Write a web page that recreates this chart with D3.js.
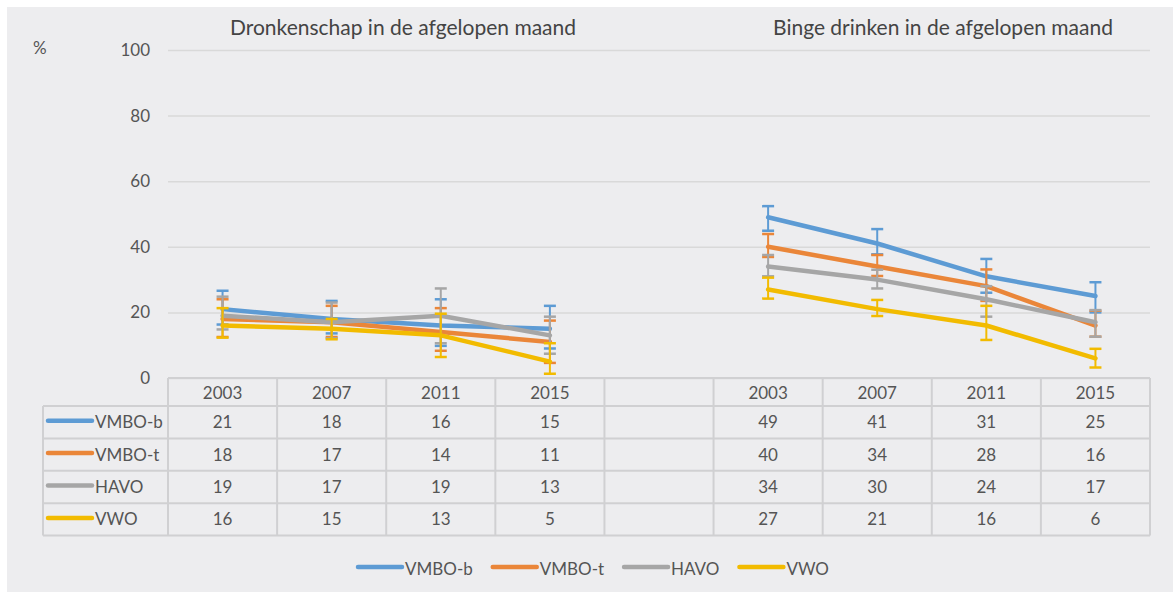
<!DOCTYPE html>
<html>
<head>
<meta charset="utf-8">
<script src="https://cdn.jsdelivr.net/npm/d3@7"></script>
<style>
  body { margin: 0; background: #fff; }
  svg { display: block; font-family: Lato, "Open Sans", sans-serif; }
</style>
</head>
<body>
<div id="chart"></div>
<script>
// data
var panels = ["Dronkenschap in de afgelopen maand", "Binge drinken in de afgelopen maand"];
var years = ["2003", "2007", "2011", "2015"];
var series = ["VMBO-b", "VMBO-t", "HAVO", "VWO"];
var colors = ["#5d9bd4", "#ea8639", "#a6a6a6", "#f2bb00"];
var yTicks = [0, 20, 40, 60, 80, 100];

// dronkenschap
var dronkValues = [[21, 18, 16, 15], [18, 17, 14, 11], [19, 17, 19, 13], [16, 15, 13, 5]];
var dronkLow = [[16.3, 13.6, 9.8, 9], [12.5, 12.5, 8.3, 4.6], [14.8, 12.1, 10.6, 7.4], [12.3, 11.8, 6.4, 1.3]];
var dronkHigh = [[26.6, 23.5, 24, 22], [24, 22, 21.3, 17.5], [24.8, 23, 27.3, 18.7], [21.3, 18, 19.6, 10.6]];

// binge drinken
var bingeValues = [[49, 41, 31, 25], [40, 34, 28, 16], [34, 30, 24, 17], [27, 21, 16, 6]];
var bingeLow = [[44.9, 37.7, 26, 20], [36.9, 31.1, 23.5, 12.6], [31, 27.3, 18.7, 12.6], [24.2, 18.9, 11.6, 3.2]];
var bingeHigh = [[52.4, 45.4, 36.3, 29.2], [43.9, 37.5, 33.1, 20.5], [37.5, 33, 28, 20.7], [30.6, 23.8, 22, 8.9]];

var width = 1173, height = 592;
var textColor = "#555555";

var svg = d3.select("#chart").append("svg")
    .attr("width", width)
    .attr("height", height);

svg.append("rect")
    .attr("x", 7).attr("y", 7)
    .attr("width", width - 7).attr("height", height - 7)
    .attr("fill", "#ededef");

// category keys: 4 years, a gap, 4 years
var catKeys = years.map(function(y) { return "a" + y; })
    .concat(["gap"])
    .concat(years.map(function(y) { return "b" + y; }));

var x = d3.scaleBand().domain(catKeys).range([168, 1150]);
var y = d3.scaleLinear().domain([0, 100]).range([378, 50]);

// gridlines + tick labels
var yAxis = svg.append("g")
    .attr("transform", "translate(168,0)")
    .call(d3.axisLeft(y).tickValues(yTicks).tickSize(-(1150 - 168)).tickPadding(18));
yAxis.select(".domain").remove();
yAxis.selectAll(".tick line").attr("stroke", "#d9d9d9").attr("stroke-width", 1.5);
yAxis.selectAll(".tick text")
    .attr("fill", textColor)
    .style("font-size", "17px")
    .style("font-family", "Lato, sans-serif");

svg.append("text")
    .attr("x", 33).attr("y", 54)
    .attr("fill", textColor)
    .style("font-size", "17px")
    .text("%");

// panel titles
var titleX = [403, 943];
svg.selectAll("text.title")
    .data(panels)
    .enter()
    .append("text")
    .classed("title", true)
    .attr("x", function(d, i) { return titleX[i]; })
    .attr("y", 35)
    .attr("text-anchor", "middle")
    .attr("fill", "#444444")
    .style("font-size", "21px")
    .text(function(d) { return d; });

// series lines + error bars
var line = d3.line()
    .x(function(d) { return x(d.key) + x.bandwidth() / 2; })
    .y(function(d) { return y(d.v); });

var plot = svg.append("g");
var blocks = [
    { prefix: "a", values: dronkValues, low: dronkLow, high: dronkHigh },
    { prefix: "b", values: bingeValues, low: bingeLow, high: bingeHigh }
];

series.forEach(function(name, si) {
    blocks.forEach(function(b) {
        var pts = years.map(function(yr, i) {
            return { key: b.prefix + yr, v: b.values[si][i], lo: b.low[si][i], hi: b.high[si][i] };
        });
        var g = plot.append("g");
        var eb = g.selectAll("g.err").data(pts).enter().append("g").classed("err", true)
            .attr("stroke", colors[si]);
        eb.append("line")
            .attr("x1", function(d) { return x(d.key) + x.bandwidth() / 2; })
            .attr("x2", function(d) { return x(d.key) + x.bandwidth() / 2; })
            .attr("y1", function(d) { return y(d.lo); })
            .attr("y2", function(d) { return y(d.hi); })
            .attr("stroke-width", 2);
        ["lo", "hi"].forEach(function(k) {
            eb.append("line")
                .attr("x1", function(d) { return x(d.key) + x.bandwidth() / 2 - 6; })
                .attr("x2", function(d) { return x(d.key) + x.bandwidth() / 2 + 6; })
                .attr("y1", function(d) { return y(d[k]); })
                .attr("y2", function(d) { return y(d[k]); })
                .attr("stroke-width", 2.5);
        });
        g.append("path")
            .datum(pts)
            .attr("d", line)
            .attr("fill", "none")
            .attr("stroke", colors[si])
            .attr("stroke-width", 4.5)
            .attr("stroke-linejoin", "round")
            .attr("stroke-linecap", "round");
    });
});

// data table under the axis
var tableLeft = 43, tableRight = 1150, headTop = 378, headBottom = 406;
var rowY = d3.scaleBand().domain(series).range([headBottom, 535.6]);
var gridColor = "#d0d0d2";
var table = svg.append("g");

var hLines = [headBottom].concat(series.map(function(s) { return rowY(s) + rowY.bandwidth(); }));
table.selectAll("line.h").data(hLines).enter().append("line")
    .attr("x1", tableLeft).attr("x2", tableRight)
    .attr("y1", function(d) { return d; }).attr("y2", function(d) { return d; })
    .attr("stroke", gridColor).attr("stroke-width", 2);
table.append("line")
    .attr("x1", 168).attr("x2", tableRight)
    .attr("y1", headTop).attr("y2", headTop)
    .attr("stroke", gridColor).attr("stroke-width", 2);

var vLines = catKeys.map(function(k) { return x(k); }).concat([tableRight]);
table.selectAll("line.v").data(vLines).enter().append("line")
    .attr("x1", function(d) { return d; }).attr("x2", function(d) { return d; })
    .attr("y1", headTop).attr("y2", 535.6)
    .attr("stroke", gridColor).attr("stroke-width", 2);
table.append("line")
    .attr("x1", tableLeft).attr("x2", tableLeft)
    .attr("y1", headBottom).attr("y2", 535.6)
    .attr("stroke", gridColor).attr("stroke-width", 2);

// header years
table.selectAll("text.yr").data(catKeys.filter(function(k) { return k !== "gap"; }))
    .enter().append("text")
    .attr("x", function(d) { return x(d) + x.bandwidth() / 2; })
    .attr("y", (headTop + headBottom) / 2 + 1)
    .attr("dy", "0.35em")
    .attr("text-anchor", "middle")
    .attr("fill", textColor)
    .style("font-size", "17px")
    .text(function(d) { return d.slice(1); });

// row keys + cell values
series.forEach(function(name, si) {
    var cy = rowY(name) + rowY.bandwidth() / 2;
    table.append("line")
        .attr("x1", 48).attr("x2", 92)
        .attr("y1", cy - 1.5).attr("y2", cy - 1.5)
        .attr("stroke", colors[si]).attr("stroke-width", 4.5)
        .attr("stroke-linecap", "round");
    table.append("text")
        .attr("x", 95).attr("y", cy).attr("dy", "0.35em")
        .attr("fill", textColor)
        .style("font-size", "17px")
        .text(name);
    blocks.forEach(function(b) {
        years.forEach(function(yr, i) {
            table.append("text")
                .attr("x", x(b.prefix + yr) + x.bandwidth() / 2)
                .attr("y", cy).attr("dy", "0.35em")
                .attr("text-anchor", "middle")
                .attr("fill", textColor)
                .style("font-size", "17px")
                .text(b.values[si][i]);
        });
    });
});

// legend at the bottom
var legend = svg.append("g").attr("transform", "translate(358,567)");
var lx = 0;
series.forEach(function(name, si) {
    var item = legend.append("g").attr("transform", "translate(" + lx + ",0)");
    item.append("line")
        .attr("x1", 0).attr("x2", 44)
        .attr("stroke", colors[si]).attr("stroke-width", 4.5)
        .attr("stroke-linecap", "round");
    var t = item.append("text")
        .attr("x", 47).attr("y", 2).attr("dy", "0.35em")
        .attr("fill", textColor)
        .style("font-size", "17px")
        .text(name);
    lx += 47 + t.node().getComputedTextLength() + 20;
});
</script>
</body>
</html>
